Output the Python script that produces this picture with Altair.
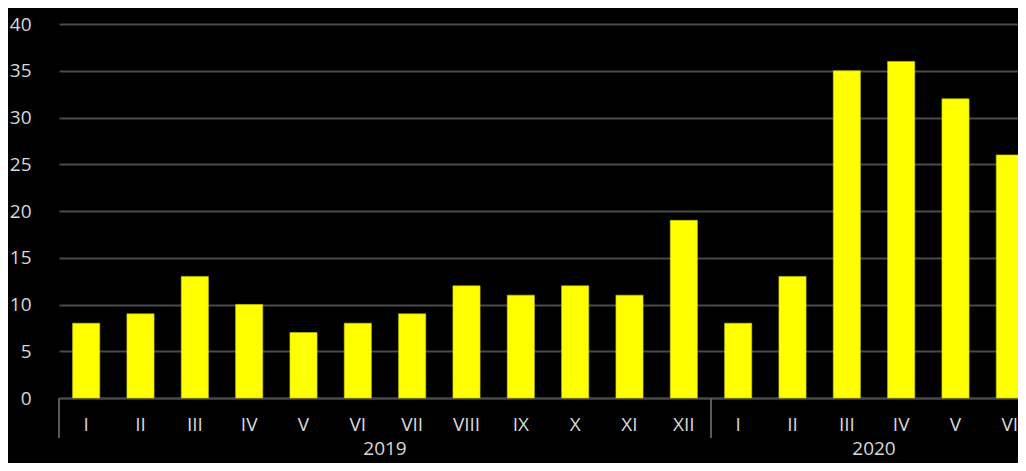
import altair as alt
import pandas as pd

# ---- data ----
years = ["2019"] * 12 + ["2020"] * 6
months = ["I", "II", "III", "IV", "V", "VI", "VII", "VIII", "IX", "X", "XI", "XII",
          "I", "II", "III", "IV", "V", "VI"]
values = [8, 9, 13, 10, 7, 8, 9, 12, 11, 12, 11, 19,
          8, 13, 35, 36, 32, 26]
y_ticks = [0, 5, 10, 15, 20, 25, 30, 35, 40]
year_list = ["2019", "2020"]

keys = [f"{y} {m}" for y, m in zip(years, months)]
df = pd.DataFrame({"key": keys, "year": years, "month": months, "value": values})

# year groups (start slot and centre slot of each year along the month axis)
counts = [years.count(y) for y in year_list]
starts = [sum(counts[:i]) for i in range(len(counts))]
centers = [s + c / 2 for s, c in zip(starts, counts)]
deco = pd.DataFrame({"year": year_list, "start": starts, "center": centers})

FONT = "Open Sans"
TEXT = "#d9d9d9"
GRID = "#4a4a4a"
SEP = "#5a5a5a"
BAR = "#ffff00"
N = len(keys)
RANGE = 978   # full band range (extends past the visible right edge)
W = 959       # visible plot width
H = 374
FS = 19

bars = alt.Chart(df).mark_bar(color=BAR, stroke="#c8c800", strokeWidth=0.6).encode(
    x=alt.X(
        "key:N", sort=keys,
        scale=alt.Scale(paddingInner=0.5, paddingOuter=0.25, range=[0, RANGE]),
        axis=alt.Axis(
            title=None, labelAngle=0, ticks=False, tickSize=0,
            labelExpr="split(datum.label, ' ')[1]",
            domain=True, domainColor=GRID, domainWidth=2,
            labelPadding=17, labelFont=FONT, labelFontSize=FS, labelColor=TEXT,
        ),
    ),
    y=alt.Y(
        "value:Q", scale=alt.Scale(domain=[0, 40]),
        axis=alt.Axis(
            values=y_ticks, grid=True, gridColor=GRID, gridWidth=2,
            ticks=False, tickSize=0, domain=False, title=None,
            labelPadding=28, labelFont=FONT, labelFontSize=FS, labelColor=TEXT,
        ),
    ),
)

qscale = alt.Scale(domain=[0, N], range=[0, RANGE], nice=False, zero=False)

sep = alt.Chart(deco).mark_rule(color=SEP, strokeWidth=2).encode(
    x=alt.X("start:Q", scale=qscale, axis=None),
    y=alt.value(H),
    y2=alt.value(H + 40),
)

year_text = alt.Chart(deco).mark_text(
    font=FONT, fontSize=FS, color=TEXT, baseline="alphabetic", align="center"
).encode(
    x=alt.X("center:Q", scale=qscale, axis=None),
    y=alt.value(H + 57),
    text="year:N",
)

chart = alt.layer(bars, sep, year_text).resolve_scale(x="independent").properties(
    width=W,
    height=H,
    autosize=alt.AutoSizeParams(type="none"),
    padding={"left": 51, "top": 16, "right": 0, "bottom": 65},
    background="#000000",
).configure_view(stroke=None)

chart.save("out.html", embed_options={"renderer": "svg", "actions": False})
